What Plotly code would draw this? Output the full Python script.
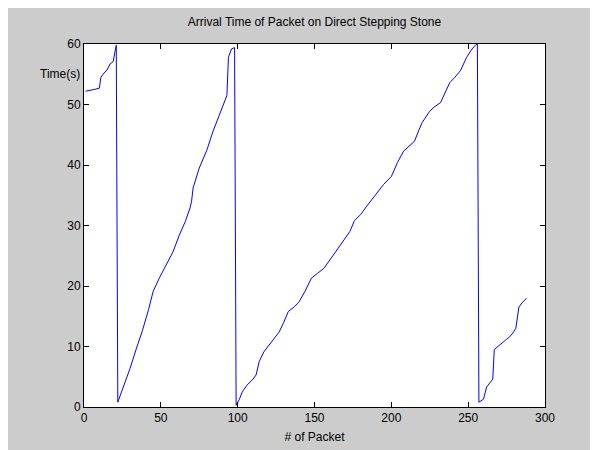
import plotly.graph_objects as go

# Packet numbers (vertices) and arrival time in seconds
packet = [
    1, 4, 7, 10, 11, 13, 15, 17, 19, 20, 21,
    22, 26, 30, 34, 38, 42, 45, 49, 54, 58, 62, 66, 69, 70, 71, 75, 80, 84, 88, 92, 93, 94, 96, 98,
    99, 101, 103, 106, 110, 112, 114, 117, 122, 127, 130, 133, 137, 140, 144, 148, 152, 156, 160,
    164, 169, 173, 176, 180, 184, 188, 192, 195, 200, 204, 208, 212, 215, 218, 220, 225, 228, 232,
    235, 238, 241, 245, 249, 252, 255, 256,
    257, 258, 260, 262, 264, 266, 267, 270, 272, 275, 277, 279, 281, 282, 283, 285, 287, 288,
]
time_s = [
    52.2, 52.3, 52.5, 52.7, 54.5, 55.2, 55.7, 56.7, 57.1, 58.5, 59.8,
    0.8, 3.6, 6.4, 9.6, 12.6, 16.1, 19.1, 21.3, 23.7, 25.7, 28.4, 30.7, 32.9, 34.0, 36.2, 39.5, 42.5,
    45.6, 48.2, 51.0, 51.5, 57.8, 59.2, 59.4,
    0.3, 1.2, 2.5, 3.6, 4.6, 5.3, 7.5, 9.1, 10.8, 12.4, 14.0, 15.8, 16.6, 17.4, 19.2, 21.3, 22.1,
    22.9, 24.3, 25.7, 27.4, 29.0, 30.8, 31.8, 33.2, 34.5, 35.8, 36.8, 38.1, 40.4, 42.3, 43.2, 43.9,
    45.8, 47.0, 48.9, 49.6, 50.3, 52.0, 53.6, 54.4, 55.6, 57.8, 59.0, 59.9, 60.0,
    0.8, 1.0, 1.3, 3.3, 4.0, 4.6, 9.5, 10.2, 10.5, 11.2, 11.6, 12.2, 13.0, 14.5, 16.5, 17.2, 17.8, 18.0,
]

x_ticks = [0, 50, 100, 150, 200, 250, 300]
y_ticks = [0, 10, 20, 30, 40, 50, 60]

font = "Liberation Sans, Arial, sans-serif"

fig = go.Figure()
fig.add_trace(go.Scatter(x=packet, y=time_s, mode="lines",
                         line=dict(color="#0000ff", width=1), showlegend=False))

axis_common = dict(showline=True, linecolor="black", linewidth=1, mirror="ticks",
                   ticks="inside", ticklen=5, tickcolor="black", showgrid=False,
                   zeroline=False, tickfont=dict(family=font, size=12, color="black"))

fig.update_layout(
    width=598, height=450,
    paper_bgcolor="#cccccc", plot_bgcolor="white",
    margin=dict(l=76, r=61, t=36, b=51),
    title=dict(text="Arrival Time of Packet on Direct Stepping Stone",
               x=(76 + 461 / 2) / 598, xanchor="center", y=1 - 14 / 450, yanchor="middle",
               font=dict(family=font, size=12, color="black")),
    xaxis=dict(range=[0, 300], tickvals=x_ticks,
               title=dict(text="# of Packet", standoff=8,
                          font=dict(family=font, size=12, color="black")),
               **axis_common),
    yaxis=dict(range=[0, 60], tickvals=y_ticks, **axis_common),
    annotations=[dict(text="Time(s)", xref="paper", yref="paper",
                      x=-0.005, y=1 - 30 / 363, xanchor="right", yanchor="middle",
                      showarrow=False, font=dict(family=font, size=12, color="black"))],
)

fig.write_html("out.html")
